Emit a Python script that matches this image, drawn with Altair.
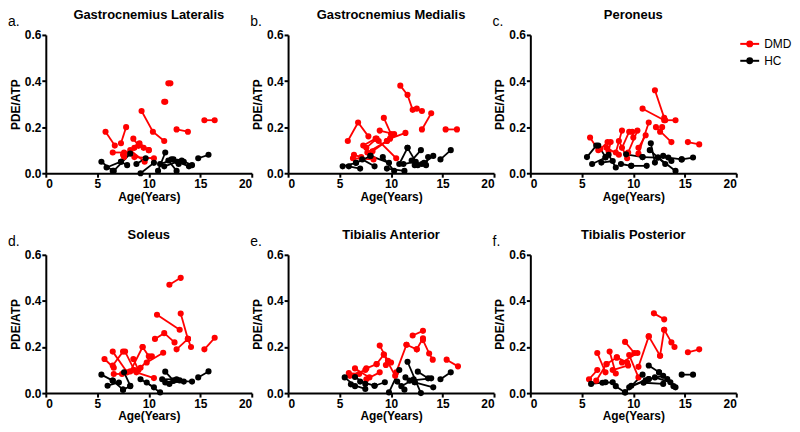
import altair as alt
import pandas as pd

# ---- data: each subject = list of (age, PDE/ATP) visits ----
PANELS = ["Gastrocnemius Lateralis", "Gastrocnemius Medialis", "Peroneus",
          "Soleus", "Tibialis Anterior", "Tibialis Posterior"]
LETTERS = ["a.", "b.", "c.", "d.", "e.", "f."]
GROUPS = ["DMD", "HC"]
COLORS = ["#ff0000", "#000000"]

GL_DMD = [[(5.8, 0.18), (6.7, 0.12)], [(7.3, 0.13), (7.8, 0.20)], [(6.5, 0.09), (7.6, 0.09)],
          [(9.3, 0.27), (10.4, 0.18), (11.5, 0.14)], [(11.9, 0.39), (12.1, 0.39)],
          [(11.5, 0.31), (11.6, 0.31)], [(12.7, 0.19), (13.8, 0.18)], [(15.4, 0.23), (16.4, 0.23)],
          [(8.5, 0.15), (9.0, 0.12)], [(7.5, 0.08), (8.6, 0.11)], [(8.2, 0.10), (9.6, 0.05)],
          [(9.1, 0.13), (10.0, 0.10)], [(8.6, 0.07), (10.5, 0.065)], [(7.6, 0.07), (9.0, 0.12)],
          [(9.5, 0.11), (10.0, 0.10)]]
GL_HC = [[(5.4, 0.05), (6.5, 0.01)], [(5.9, 0.025), (7.3, 0.05)], [(6.6, 0.01), (8.2, 0.085)],
         [(7.3, 0.05), (7.9, 0.035)], [(9.2, 0.0), (10.5, 0.045)], [(8.8, 0.04), (9.7, 0.065)],
         [(10.9, 0.01), (11.6, 0.09)], [(11.1, 0.04), (12.4, 0.06)], [(11.9, 0.055), (12.7, 0.01)],
         [(12.9, 0.04), (13.4, 0.05)], [(13.2, 0.055), (14.2, 0.035)], [(14.8, 0.065), (15.8, 0.08)],
         [(11.5, 0.03), (12.8, 0.05)], [(12.2, 0.06), (13.9, 0.03)]]

GM_DMD = [[(5.8, 0.14), (6.8, 0.22), (7.8, 0.16)], [(10.9, 0.38), (11.6, 0.34), (12.1, 0.275)],
          [(12.5, 0.28), (13.0, 0.27)], [(13.9, 0.26), (13.0, 0.19)], [(15.3, 0.19), (16.4, 0.19)],
          [(6.4, 0.08), (7.1, 0.07)], [(6.3, 0.065), (8.3, 0.06)], [(7.6, 0.11), (8.6, 0.15)],
          [(8.2, 0.095), (9.6, 0.14)], [(9.3, 0.24), (10.0, 0.17)], [(8.9, 0.185), (10.3, 0.17)],
          [(9.9, 0.15), (11.4, 0.175)], [(8.8, 0.14), (10.5, 0.065)], [(7.7, 0.09), (9.6, 0.14)],
          [(7.3, 0.12), (8.5, 0.15)]]
GM_HC = [[(5.3, 0.03), (6.6, 0.045)], [(5.9, 0.03), (7.0, 0.02)], [(6.6, 0.045), (8.0, 0.075)],
         [(7.2, 0.06), (8.4, 0.03)], [(8.0, 0.075), (9.8, 0.045)], [(9.2, 0.07), (10.3, 0.01)],
         [(9.6, 0.02), (11.3, 0.01)], [(10.8, 0.04), (11.6, 0.11)], [(11.6, 0.11), (12.6, 0.035)],
         [(12.0, 0.055), (12.9, 0.10)], [(11.2, 0.04), (12.4, 0.05)], [(13.2, 0.045), (14.1, 0.075)],
         [(13.4, 0.035), (13.6, 0.07)], [(14.8, 0.06), (15.8, 0.10)], [(12.3, 0.035), (13.0, 0.04)]]

PE_DMD = [[(5.8, 0.155), (6.6, 0.10)], [(6.8, 0.105), (7.5, 0.135)], [(7.6, 0.095), (7.8, 0.135)],
          [(8.3, 0.09), (8.9, 0.185)], [(8.6, 0.14), (9.4, 0.065)], [(8.9, 0.11), (9.6, 0.18)],
          [(9.9, 0.18), (10.0, 0.155)], [(10.4, 0.185), (9.5, 0.09)], [(10.5, 0.085), (11.5, 0.22)],
          [(10.5, 0.11), (11.2, 0.165)], [(10.9, 0.28), (13.0, 0.23)], [(12.1, 0.36), (13.0, 0.24)],
          [(13.1, 0.23), (14.1, 0.23)], [(12.6, 0.18), (12.8, 0.20)], [(12.2, 0.20), (13.7, 0.135)],
          [(15.3, 0.135), (16.4, 0.125)], [(7.4, 0.11), (8.6, 0.08)]]
PE_HC = [[(5.5, 0.07), (6.4, 0.12)], [(6.0, 0.04), (7.3, 0.068)], [(6.6, 0.12), (7.3, 0.07)],
         [(6.9, 0.046), (8.0, 0.053)], [(7.6, 0.08), (8.3, 0.025)], [(8.8, 0.04), (9.8, 0.032)],
         [(9.3, 0.082), (10.9, 0.07)], [(9.8, 0.032), (11.3, 0.032)], [(10.9, 0.07), (12.4, 0.068)],
         [(11.6, 0.10), (13.1, 0.04)], [(11.7, 0.13), (12.1, 0.046)], [(12.4, 0.068), (14.1, 0.01)],
         [(12.9, 0.075), (13.7, 0.053)], [(13.4, 0.068), (14.7, 0.06)], [(14.7, 0.06), (15.8, 0.068)]]

SO_DMD = [[(12.0, 0.47), (13.1, 0.50)], [(10.8, 0.34), (13.0, 0.275)], [(13.1, 0.345), (13.8, 0.235)],
          [(10.6, 0.235), (11.5, 0.26), (12.5, 0.22)], [(12.7, 0.19), (13.8, 0.235)],
          [(13.8, 0.235), (14.1, 0.20)], [(15.4, 0.19), (16.4, 0.24)], [(5.7, 0.148), (6.6, 0.11)],
          [(6.5, 0.18), (7.9, 0.09)], [(6.5, 0.12), (7.5, 0.18)], [(6.6, 0.083), (7.4, 0.083)],
          [(7.7, 0.18), (8.6, 0.10)], [(8.2, 0.094), (9.4, 0.20)], [(8.5, 0.148), (9.0, 0.10)],
          [(9.4, 0.20), (10.0, 0.16)], [(9.8, 0.133), (11.4, 0.175)], [(8.8, 0.09), (10.5, 0.065)],
          [(9.2, 0.11), (10.3, 0.16)]]
SO_HC = [[(5.4, 0.08), (6.5, 0.054)], [(6.0, 0.032), (7.1, 0.046)], [(6.5, 0.054), (7.5, 0.015)],
         [(7.6, 0.09), (8.2, 0.032)], [(7.5, 0.015), (8.2, 0.03)], [(9.2, 0.06), (10.5, 0.025)],
         [(9.8, 0.046), (11.1, 0.003)], [(11.6, 0.093), (12.4, 0.054)], [(11.3, 0.06), (12.7, 0.06)],
         [(11.6, 0.046), (13.4, 0.05)], [(12.4, 0.054), (14.2, 0.05)], [(14.8, 0.068), (15.8, 0.094)],
         [(12.0, 0.04), (13.0, 0.055)]]

TA_DMD = [[(5.9, 0.087), (6.9, 0.083)], [(6.5, 0.107), (7.9, 0.068)], [(7.6, 0.107), (8.6, 0.126)],
          [(7.6, 0.06), (8.9, 0.09)], [(8.9, 0.206), (9.7, 0.14)], [(8.6, 0.126), (9.3, 0.167)],
          [(9.3, 0.167), (10.4, 0.075)], [(9.5, 0.122), (10.0, 0.133)], [(10.5, 0.09), (11.5, 0.21)],
          [(11.5, 0.21), (12.5, 0.19)], [(12.1, 0.25), (13.1, 0.27)], [(12.5, 0.19), (13.1, 0.238)],
          [(13.1, 0.23), (13.7, 0.172), (14.05, 0.145)], [(15.4, 0.145), (16.5, 0.116)],
          [(6.0, 0.075), (7.5, 0.10)]]
TA_HC = [[(5.5, 0.068), (6.5, 0.03)], [(6.1, 0.038), (7.5, 0.018)], [(6.5, 0.07), (7.5, 0.04)],
         [(8.4, 0.032), (9.4, 0.047)], [(7.0, 0.05), (8.4, 0.032)], [(9.8, 0.003), (10.8, 0.10)],
         [(10.6, 0.05), (11.3, 0.015)], [(11.6, 0.136), (12.9, 0.0)], [(11.4, 0.068), (12.3, 0.047)],
         [(11.8, 0.054), (13.9, 0.064)], [(12.6, 0.093), (13.6, 0.064)], [(12.3, 0.047), (14.1, 0.025)],
         [(14.8, 0.06), (15.8, 0.09)], [(11.0, 0.03), (12.2, 0.06)]]

TP_DMD = [[(5.7, 0.06), (6.5, 0.10)], [(6.4, 0.054), (7.4, 0.126)], [(6.5, 0.174), (7.3, 0.09)],
          [(7.7, 0.18), (8.3, 0.085)], [(7.4, 0.126), (8.4, 0.155)], [(8.4, 0.155), (9.4, 0.133)],
          [(9.2, 0.222), (10.1, 0.174)], [(8.9, 0.133), (10.4, 0.174)], [(9.6, 0.165), (10.5, 0.068)],
          [(10.5, 0.114), (11.5, 0.246)], [(11.5, 0.246), (12.6, 0.162)], [(12.0, 0.346), (13.0, 0.32)],
          [(12.6, 0.162), (13.0, 0.275)], [(13.0, 0.275), (13.7, 0.22), (14.0, 0.20)],
          [(15.3, 0.177), (16.4, 0.19)], [(8.0, 0.10), (9.5, 0.12)]]
TP_HC = [[(5.9, 0.04), (7.3, 0.047)], [(7.0, 0.045), (8.0, 0.047)], [(8.3, 0.03), (9.2, 0.003)],
         [(9.2, 0.003), (10.9, 0.08)], [(9.6, 0.025), (11.2, 0.055)], [(9.8, 0.032), (11.5, 0.061)],
         [(11.5, 0.12), (12.5, 0.09)], [(11.5, 0.061), (12.9, 0.075)], [(12.1, 0.068), (13.6, 0.047)],
         [(12.5, 0.09), (14.1, 0.025)], [(13.3, 0.061), (13.9, 0.03)], [(14.7, 0.08), (15.8, 0.08)],
         [(11.0, 0.045), (12.9, 0.04)]]

PANEL_DATA = [(GL_DMD, GL_HC), (GM_DMD, GM_HC), (PE_DMD, PE_HC),
              (SO_DMD, SO_HC), (TA_DMD, TA_HC), (TP_DMD, TP_HC)]

FONT = "Liberation Sans"
W, H = 207, 139


def build(dmd, hc):
    rows = []
    for grp, subjects in zip(GROUPS, (dmd, hc)):
        for i, subj in enumerate(subjects):
            for j, (a, v) in enumerate(subj):
                rows.append({"group": grp, "sid": f"{grp}{i}", "ord": j, "age": a, "val": v})
    return pd.DataFrame(rows)


color_scale = alt.Scale(domain=GROUPS, range=COLORS)


def legend_layers():
    out = []
    for i, (g, c) in enumerate(zip(GROUPS, COLORS)):
        yy = 9 + 17 * i
        d = alt.Chart(pd.DataFrame({"g": [g]}))
        out.append(d.mark_rule(strokeWidth=2, color=c).encode(
            x=alt.value(W + 4), x2=alt.value(W + 23), y=alt.value(yy)))
        out.append(d.mark_circle(size=48, opacity=1, color=c).encode(
            x=alt.value(W + 13.5), y=alt.value(yy)))
        out.append(d.mark_text(align="left", baseline="middle", font=FONT, fontSize=12,
                               color="black").encode(
            x=alt.value(W + 28), y=alt.value(yy), text="g:N"))
    return out


def panel(name, letter, dmd, hc, with_legend=False):
    df = build(dmd, hc)
    x = alt.X("age:Q", scale=alt.Scale(domain=[0, 20], nice=False),
              axis=alt.Axis(values=[0, 5, 10, 15, 20], title="Age(Years)"))
    y = alt.Y("val:Q", scale=alt.Scale(domain=[0, 0.6], nice=False),
              axis=alt.Axis(values=[0, 0.2, 0.4, 0.6], format=".1f", title="PDE/ATP"))
    base = alt.Chart(df)
    lines = base.mark_line(strokeWidth=1.8).encode(
        x=x, y=y, stroke=alt.Stroke("group:N", scale=color_scale, legend=None),
        detail="sid:N", order="ord:Q")
    pts = base.mark_circle(size=38, opacity=1).encode(
        x=x, y=y, color=alt.Color("group:N", scale=color_scale, legend=None))
    head = alt.Chart(pd.DataFrame({"t": [letter], "name": [name]}))
    lab = head.mark_text(
        align="left", baseline="middle", font=FONT, fontSize=14, color="black"
    ).encode(x=alt.value(-38), y=alt.value(-13), text="t:N")
    ttl = head.mark_text(
        align="center", baseline="middle", font=FONT, fontSize=13, fontWeight="bold",
        color="black"
    ).encode(x=alt.value(W / 2), y=alt.value(-20), text="name:N")
    layers = [lines, pts, lab, ttl]
    if with_legend:
        layers += legend_layers()
    return alt.layer(*layers).properties(width=W, height=H)


charts = [panel(n, l, d, h, with_legend=(k == 2))
          for k, (n, l, (d, h)) in enumerate(zip(PANELS, LETTERS, PANEL_DATA))]

chart = alt.concat(*charts, columns=3, spacing={"row": 82, "column": 36.5},
                   bounds="flush").properties(
    padding={"left": 0, "top": 0, "right": 0, "bottom": 4}
).configure_view(
    stroke=None
).configure_axis(
    grid=False, domainColor="black", domainWidth=2, tickColor="black", tickWidth=2,
    tickSize=4, labelFont=FONT, labelFontSize=12, labelFontWeight="bold",
    labelColor="black", labelPadding=1, titleFont=FONT, titleFontSize=12,
    titleFontWeight="bold", titleColor="black", titlePadding=2
)

chart.save("out.html", embed_options={"renderer": "svg", "actions": False})
